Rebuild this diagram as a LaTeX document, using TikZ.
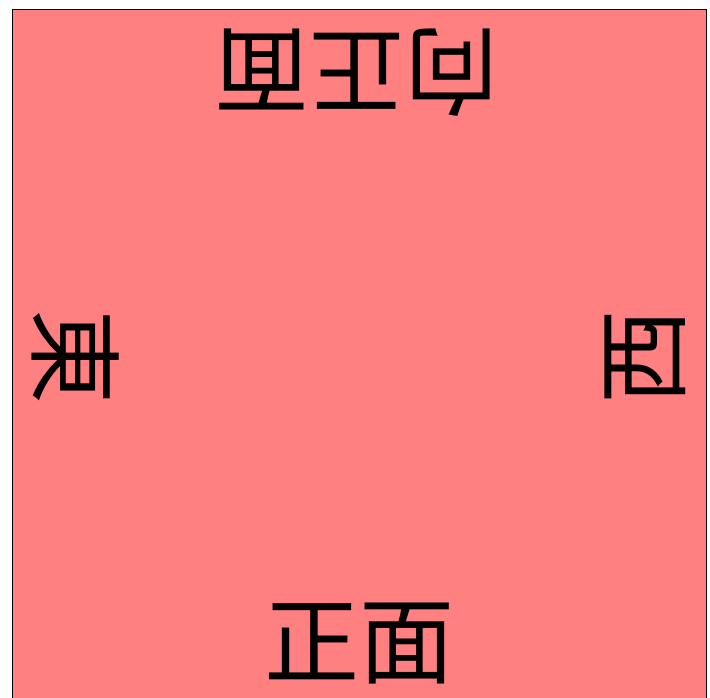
\documentclass[tikz,border=0pt]{standalone}
\usepackage{fontspec}
\newfontfamily\cjkfont{Noto Sans CJK JP}
\usetikzlibrary{positioning}
\definecolor{boardpink}{RGB}{255,128,128}

\begin{document}
\begin{tikzpicture}[
    x=1pt, y=1pt,
    board/.style={draw=black, line width=1pt, fill=boardpink},
    side/.style={font=\cjkfont\fontsize{95}{95}\selectfont, inner sep=0pt}
]
\useasboundingbox (0,0) rectangle (710,698);

% Board
\draw[board] (12,-6) rectangle (706,688);

% Side labels
\node[side, rotate=180] (back)  at (357,625) {向正面};
\node[side]             (front) at (359,54)  {正面};
\node[side, rotate=-90] (east)  at (76,341)  {東};
\node[side, rotate=90]  (west)  at (645,341) {西};

\end{tikzpicture}
\end{document}
